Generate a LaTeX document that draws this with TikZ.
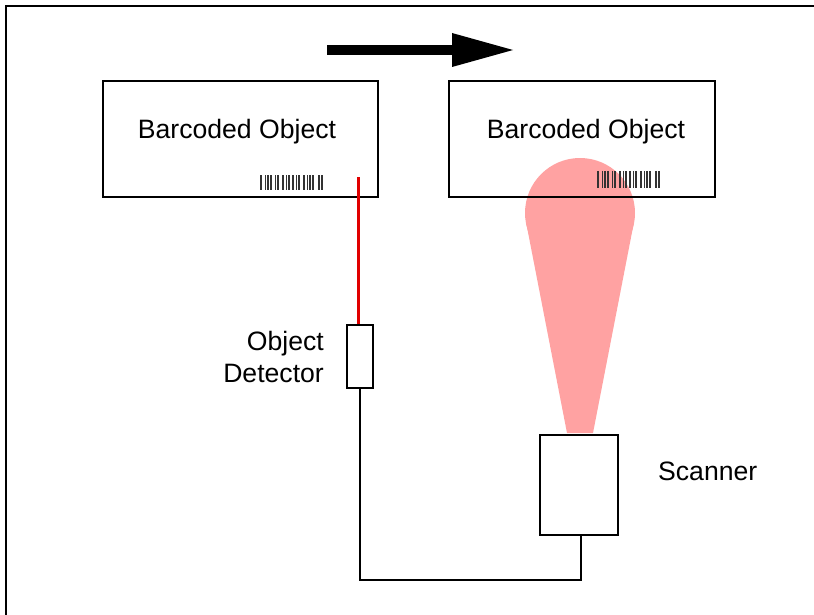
\documentclass[tikz,border=0pt]{standalone}
\usepackage{fontspec}
\setmainfont{Liberation Sans}
\definecolor{beam}{RGB}{255,162,162}
\definecolor{laser}{RGB}{225,0,0}
\begin{document}
\begin{tikzpicture}[x=1pt,y=-1pt,
  objbox/.style={draw=black,line width=1.6pt,minimum width=0pt},
  lbl/.style={font=\fontsize{26.6}{30}\selectfont,inner sep=0pt},
  wire/.style={draw=black,line width=1.6pt},
  bar/.style={line width=1.1pt,black}]
\useasboundingbox (0,0) rectangle (814,615);
% frame
\draw[line width=1.6pt] (6,615) -- (6,6) -- (814,6);
% movement arrow
\fill (327,45) rectangle (453,55);
\fill (452,33) -- (513,50) -- (452,67) -- cycle;
% scanner beam
\fill[beam] (580,213) circle (55);
\fill[beam] (526,222) -- (634,222) -- (593,433) -- (567,433) -- cycle;
% boxes
\draw[objbox] (103,81) rectangle (378,197);
\node[lbl] (t1) at (237,131.5) {Barcoded Object};
\draw[objbox] (449,81) rectangle (715,197);
\node[lbl] (t2) at (586,131.5) {Barcoded Object};
% barcodes
\foreach \dx/\w in {0/1.2,4/0.9,7/1.2,10/1.6,14/0.9,17/1.2,22/1.2,25/0.9,28/1.6,32/1.2,35/0.9,38/1.2,43/1.6,46/0.9,49/1.2,52/1.2,58/1.2,61/1.2}{
  \draw[line width=\w pt,black!80] (261+\dx,175) -- (261+\dx,190);
  \draw[line width=\w pt,black!80] (598+\dx,171) -- (598+\dx,188);
}
% detector
\node[draw,line width=1.6pt,minimum width=26pt,minimum height=63pt,inner sep=0pt] (det) at (360,356.5) {};
\node[lbl,align=right,anchor=east] (dl) at (324,357) {Object\\[2pt]Detector};
\coordinate (lp) at (358,177);
\draw[laser,line width=3pt] (lp) -- (lp |- det.north);
% scanner
\node[draw,line width=1.6pt,minimum width=78pt,minimum height=100pt,inner sep=0pt] (scn) at (579,485) {};
\node[lbl,anchor=west] (sl) at (658,471) {Scanner};
% cable
\coordinate (c1) at (581,580);
\coordinate (c2) at (360,580);
\draw[wire] (581,535) -- (c1) -- (c2) -- (det.south);
\end{tikzpicture}
\end{document}
